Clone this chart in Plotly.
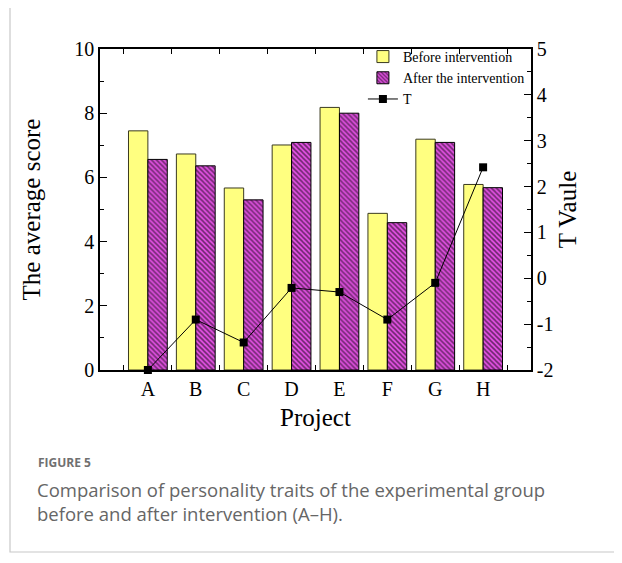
import plotly.graph_objects as go

categories = ["A", "B", "C", "D", "E", "F", "G", "H"]
before = [7.45, 6.73, 5.67, 7.01, 8.18, 4.88, 7.19, 5.78]
after = [6.56, 6.36, 5.30, 7.09, 8.00, 4.59, 7.09, 5.68]
t_values = [-2.0, -0.90, -1.40, -0.21, -0.30, -0.90, -0.10, 2.42]

left_ticks = [0, 2, 4, 6, 8, 10]
right_ticks = [-2, -1, 0, 1, 2, 3, 4, 5]
right_ticktext = ["-2", "-1", "0", "1", "2", "3", "4", "5"]

xpos = list(range(len(categories)))
SERIF = "Liberation Serif, Times New Roman, serif"

fig = go.Figure()
fig.add_trace(go.Bar(
    x=xpos, y=before, name="Before intervention",
    marker=dict(color="#ffff80", line=dict(color="#3a3a20", width=1)),
))
fig.add_trace(go.Bar(
    x=xpos, y=after, name="After the intervention",
    marker=dict(color="#e050e0", line=dict(color="#000000", width=1),
                pattern=dict(shape="\\", fgcolor="#000000", bgcolor="#e050e0",
                             size=3.5, solidity=0.45)),
))
fig.add_trace(go.Scatter(
    x=xpos, y=t_values, name="T", yaxis="y2", mode="lines+markers",
    line=dict(color="#000000", width=1),
    marker=dict(symbol="square", size=8, color="#000000"),
    cliponaxis=False,
))

tickfont = dict(family=SERIF, size=20, color="#000")
titlefont = dict(family=SERIF, size=25, color="#000")

# page has an 8px body margin; margins chosen so plot area is at page x 100..531, y 49..370
fig.update_layout(
    width=622, height=563,
    margin=dict(l=92, r=99, t=41, b=201),
    paper_bgcolor="white", plot_bgcolor="white",
    barmode="group", bargap=0.19, bargroupgap=0,
    showlegend=True,
    legend=dict(x=0.61, y=1.025, xanchor="left", yanchor="top",
                font=dict(family=SERIF, size=14, color="#000"),
                bgcolor="rgba(0,0,0,0)", tracegroupgap=0),
    xaxis=dict(range=[-1, 8], tickvals=xpos, ticktext=categories,
               ticks="", showgrid=False, zeroline=False,
               showline=True, linecolor="#000", linewidth=1.5, mirror="ticks",
               tickfont=tickfont,
               title=dict(text="Project", font=titlefont, standoff=10),
               minor=dict(tickvals=[i - 0.5 for i in range(9)], ticks="inside",
                          ticklen=5, tickcolor="#000", tickwidth=1, showgrid=False)),
    yaxis=dict(range=[0, 10], tickvals=left_ticks, ticks="inside", ticklen=7,
               tickcolor="#000", showgrid=False, zeroline=False,
               showline=True, linecolor="#000", linewidth=1.5,
               tickfont=tickfont,
               title=dict(text="The average score", font=titlefont, standoff=27),
               minor=dict(dtick=1, ticks="inside", ticklen=4, tickcolor="#000",
                          showgrid=False)),
    yaxis2=dict(range=[-2, 5], overlaying="y", side="right",
                tickvals=right_ticks, ticktext=right_ticktext,
                ticks="inside", ticklen=7, tickcolor="#000",
                showgrid=False, zeroline=False,
                showline=True, linecolor="#000", linewidth=1.5,
                tickfont=tickfont,
                title=dict(text="T Vaule", font=titlefont, standoff=6),
                minor=dict(dtick=0.5, ticks="inside", ticklen=4, tickcolor="#000",
                           showgrid=False)),
)

# card frame around the figure (page coordinates converted to paper)
def px_x(p):
    return (p - 100) / 431

def px_y(p):
    return (370 - p) / 321

fig.add_shape(type="rect", xref="paper", yref="paper",
              x0=px_x(10), x1=px_x(640), y0=px_y(552), y1=px_y(7),
              line=dict(color="#c8c8c8", width=1.2), fillcolor="rgba(0,0,0,0)",
              layer="below")

CAP = "Open Sans"
fig.add_annotation(text="<b>FIGURE 5</b>", xref="paper", yref="paper",
                   x=px_x(36), y=px_y(462),
                   xanchor="left", yanchor="middle", showarrow=False,
                   font=dict(family=CAP, size=12, color="#707070"))
caption_lines = ["Comparison of personality traits of the experimental group",
                 "before and after intervention (A\u2013H)."]
for line, yy in zip(caption_lines, [489, 513]):
    fig.add_annotation(text=line, xref="paper", yref="paper",
                       x=px_x(35), y=px_y(yy),
                       xanchor="left", yanchor="middle", align="left", showarrow=False,
                       font=dict(family=CAP, size=18.5, color="#666666"))

fig.write_html("out.html")
